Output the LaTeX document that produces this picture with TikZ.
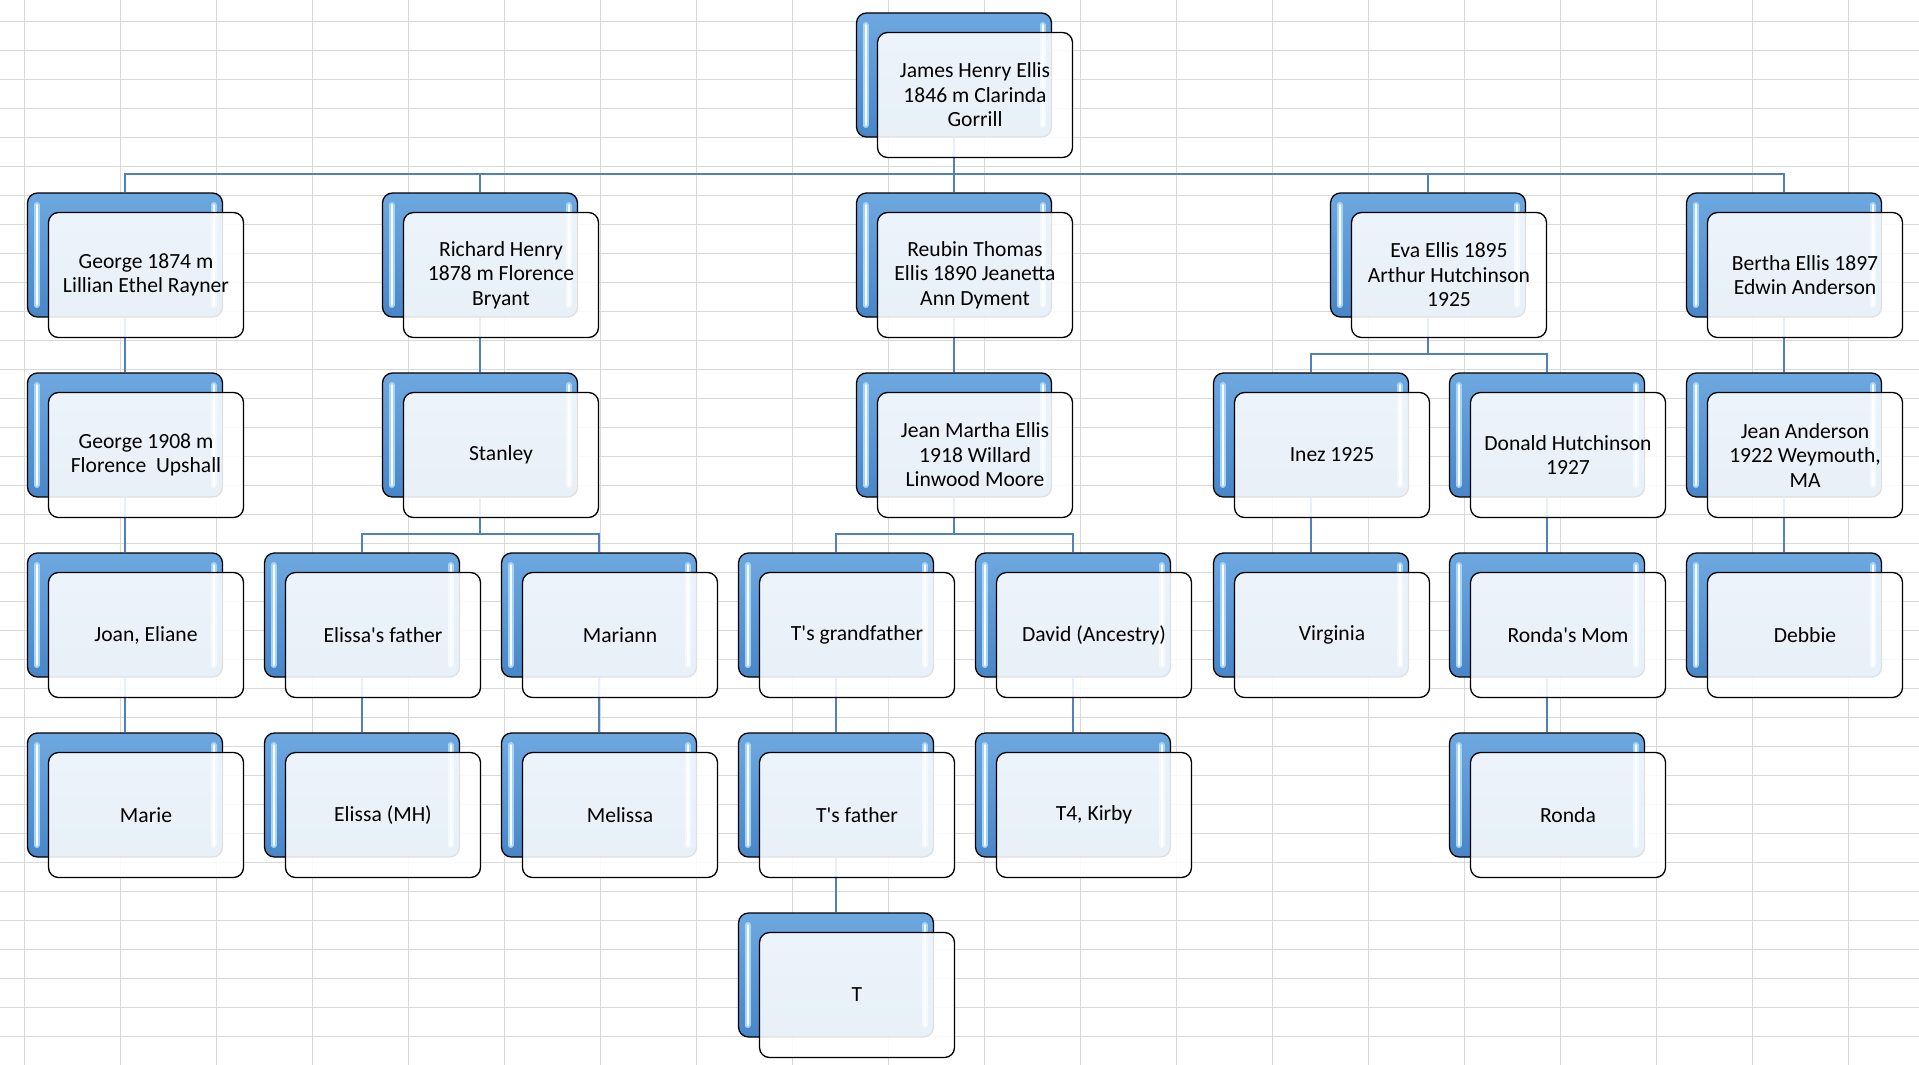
\documentclass[tikz,border=0pt]{standalone}
\usepackage{fontspec}
\setmainfont{Carlito}
\usetikzlibrary{backgrounds}
\definecolor{boxtop}{RGB}{110,168,224}
\definecolor{boxbot}{RGB}{72,134,200}
\definecolor{stripe}{RGB}{165,212,246}
\definecolor{linkblue}{RGB}{79,129,189}
\definecolor{gridgray}{RGB}{217,217,217}

\begin{document}
\begin{tikzpicture}[x=1pt,y=-1pt,
		back/.style={draw=black,line width=1.3pt,rounded corners=10pt,minimum width=195pt,minimum height=124pt,inner sep=0pt,
			top color=boxtop,bottom color=boxbot,
			path picture={
				\foreach \s/\a/\b in {1/north west/south west,-1/north east/south east}{
					\draw[stripe,line width=6pt,line cap=round] ([xshift={\s*9pt},yshift=-12pt]path picture bounding box.\a) -- ([xshift={\s*9pt},yshift=12pt]path picture bounding box.\b);
					\draw[white,line width=2pt,line cap=round] ([xshift={\s*9pt},yshift=-12pt]path picture bounding box.\a) -- ([xshift={\s*9pt},yshift=12pt]path picture bounding box.\b);
				}
			}},
		front/.style={draw=black,line width=1.3pt,rounded corners=10pt,minimum width=195pt,minimum height=125pt,inner sep=4pt,
			fill=white,fill opacity=.88,text opacity=1,align=center,font=\fontsize{21.6}{24.5}\selectfont},
		link/.style={draw=linkblue,line width=2pt},
		gridline/.style={draw=gridgray,line width=1.2pt}
		]
		\useasboundingbox (0,0) rectangle (1919,1065);
		
		% manual positions, level 0
		\node[back] (james) at (954,75) {};
		\node[front] (james-t) at ([shift={(21pt,-20pt)}]james) {James Henry Ellis\\1846 m Clarinda\\Gorrill};
		
		% level 1
		\node[back] (george) at (125,255) {};
		\node[front] (george-t) at ([shift={(21pt,-20pt)}]george) {George 1874 m\\Lillian Ethel Rayner};
		\node[back] (richard) at (480,255) {};
		\node[front] (richard-t) at ([shift={(21pt,-20pt)}]richard) {Richard Henry\\1878 m Florence\\Bryant};
		\node[back] (reubin) at (954,255) {};
		\node[front] (reubin-t) at ([shift={(21pt,-20pt)}]reubin) {Reubin Thomas\\Ellis 1890 Jeanetta\\Ann Dyment};
		\node[back] (eva) at (1428,255) {};
		\node[front] (eva-t) at ([shift={(21pt,-20pt)}]eva) {Eva Ellis 1895\\Arthur Hutchinson\\1925};
		\node[back] (bertha) at (1784,255) {};
		\node[front] (bertha-t) at ([shift={(21pt,-20pt)}]bertha) {Bertha Ellis 1897\\Edwin Anderson};
		
		% level 2
		\node[back] (george8) at (125,435) {};
		\node[front] (george8-t) at ([shift={(21pt,-20pt)}]george8) {George 1908 m\\Florence\ \ Upshall};
		\node[back] (stanley) at (480,435) {};
		\node[front] (stanley-t) at ([shift={(21pt,-20pt)}]stanley) {Stanley};
		\node[back] (jean) at (954,435) {};
		\node[front] (jean-t) at ([shift={(21pt,-20pt)}]jean) {Jean Martha Ellis\\1918 Willard\\Linwood Moore};
		\node[back] (inez) at (1311,435) {};
		\node[front] (inez-t) at ([shift={(21pt,-20pt)}]inez) {Inez 1925};
		\node[back] (donald) at (1547,435) {};
		\node[front] (donald-t) at ([shift={(21pt,-20pt)}]donald) {Donald Hutchinson\\1927};
		\node[back] (jeanA) at (1784,435) {};
		\node[front] (jeanA-t) at ([shift={(21pt,-20pt)}]jeanA) {Jean Anderson\\1922 Weymouth,\\MA};
		
		% level 3
		\node[back] (joan) at (125,615) {};
		\node[front] (joan-t) at ([shift={(21pt,-20pt)}]joan) {Joan, Eliane};
		\node[back] (efather) at (362,615) {};
		\node[front] (efather-t) at ([shift={(21pt,-20pt)}]efather) {Elissa\textquotesingle s father};
		\node[back] (mariann) at (599,615) {};
		\node[front] (mariann-t) at ([shift={(21pt,-20pt)}]mariann) {Mariann};
		\node[back] (tgrand) at (836,615) {};
		\node[front] (tgrand-t) at ([shift={(21pt,-20pt)}]tgrand) {T\textquotesingle s grandfather};
		\node[back] (david) at (1073,615) {};
		\node[front] (david-t) at ([shift={(21pt,-20pt)}]david) {David (Ancestry)};
		\node[back] (virginia) at (1311,615) {};
		\node[front] (virginia-t) at ([shift={(21pt,-20pt)}]virginia) {Virginia};
		\node[back] (rmom) at (1547,615) {};
		\node[front] (rmom-t) at ([shift={(21pt,-20pt)}]rmom) {Ronda\textquotesingle s Mom};
		\node[back] (debbie) at (1784,615) {};
		\node[front] (debbie-t) at ([shift={(21pt,-20pt)}]debbie) {Debbie};
		
		% level 4
		\node[back] (marie) at (125,795) {};
		\node[front] (marie-t) at ([shift={(21pt,-20pt)}]marie) {Marie};
		\node[back] (elissa) at (362,795) {};
		\node[front] (elissa-t) at ([shift={(21pt,-20pt)}]elissa) {Elissa (MH)};
		\node[back] (melissa) at (599,795) {};
		\node[front] (melissa-t) at ([shift={(21pt,-20pt)}]melissa) {Melissa};
		\node[back] (tfather) at (836,795) {};
		\node[front] (tfather-t) at ([shift={(21pt,-20pt)}]tfather) {T\textquotesingle s father};
		\node[back] (tkirby) at (1073,795) {};
		\node[front] (tkirby-t) at ([shift={(21pt,-20pt)}]tkirby) {T4, Kirby};
		\node[back] (ronda) at (1547,795) {};
		\node[front] (ronda-t) at ([shift={(21pt,-20pt)}]ronda) {Ronda};
		
		% level 5
		\node[back] (tchild) at (836,975) {};
		\node[front] (tchild-t) at ([shift={(21pt,-20pt)}]tchild) {T};
		
		\begin{pgfonlayer}{background}
			% sheet grid
			\fill[white] (0,0) rectangle (1919,1065);
			\foreach \i in {0,...,19} \draw[gridline] ({24.3+96*\i},0) -- ++(0,1065);
			\foreach \j in {0,...,35} \draw[gridline] (0,{21.3+29*\j}) -- ++(1919,0);
			
			% links
			\draw[link] (james.south) |- ([yshift=18pt]george.north) -- (george.north);
			\draw[link] (james.south) |- ([yshift=18pt]richard.north) -- (richard.north);
			\draw[link] (james.south) |- ([yshift=18pt]reubin.north) -- (reubin.north);
			\draw[link] (james.south) |- ([yshift=18pt]eva.north) -- (eva.north);
			\draw[link] (james.south) |- ([yshift=18pt]bertha.north) -- (bertha.north);
			\draw[link] (george.south) -- (george8.north);
			\draw[link] (george8.south) -- (joan.north);
			\draw[link] (joan.south) -- (marie.north);
			\draw[link] (richard.south) -- (stanley.north);
			\draw[link] (stanley.south) |- ([yshift=18pt]efather.north) -- (efather.north);
			\draw[link] (stanley.south) |- ([yshift=18pt]mariann.north) -- (mariann.north);
			\draw[link] (efather.south) -- (elissa.north);
			\draw[link] (mariann.south) -- (melissa.north);
			\draw[link] (reubin.south) -- (jean.north);
			\draw[link] (jean.south) |- ([yshift=18pt]tgrand.north) -- (tgrand.north);
			\draw[link] (jean.south) |- ([yshift=18pt]david.north) -- (david.north);
			\draw[link] (tgrand.south) -- (tfather.north);
			\draw[link] (tfather.south) -- (tchild.north);
			\draw[link] (david.south) -- (tkirby.north);
			\draw[link] (eva.south) |- ([yshift=18pt]inez.north) -- (inez.north);
			\draw[link] (eva.south) |- ([yshift=18pt]donald.north) -- (donald.north);
			\draw[link] (inez.south) -- (virginia.north);
			\draw[link] (donald.south) -- (rmom.north);
			\draw[link] (rmom.south) -- (ronda.north);
			\draw[link] (bertha.south) -- (jeanA.north);
			\draw[link] (jeanA.south) -- (debbie.north);
		\end{pgfonlayer}
	\end{tikzpicture}
\end{document}
